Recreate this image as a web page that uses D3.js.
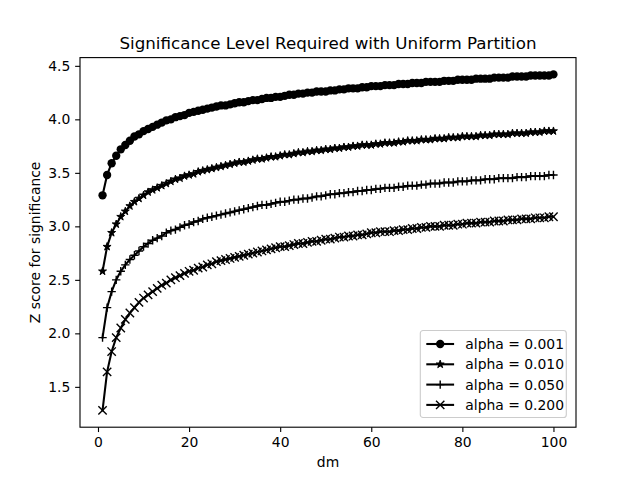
<!DOCTYPE html>
<html>
<head>
<meta charset="utf-8">
<script src="https://cdn.jsdelivr.net/npm/d3@7"></script>
<style>
  body { margin: 0; background: #fff; }
  text { font-family: "DejaVu Sans", sans-serif; }
</style>
</head>
<body>
<script>
// DATA –––––––––––––––––––––––––––––––––––––––––––––––––––––––––––––––

var dmValues = d3.range(1, 101);

var zAlpha001 = [
  3.29, 3.48, 3.59, 3.66, 3.72, 3.76, 3.80, 3.84, 3.86, 3.89,
  3.91, 3.93, 3.95, 3.97, 3.99, 4.00, 4.02, 4.03, 4.04, 4.06,
  4.07, 4.08, 4.09, 4.10, 4.11, 4.12, 4.13, 4.13, 4.14, 4.15,
  4.16, 4.16, 4.17, 4.18, 4.18, 4.19, 4.20, 4.20, 4.21, 4.21,
  4.22, 4.23, 4.23, 4.24, 4.24, 4.25, 4.25, 4.26, 4.26, 4.26,
  4.27, 4.27, 4.28, 4.28, 4.29, 4.29, 4.29, 4.30, 4.30, 4.31,
  4.31, 4.31, 4.32, 4.32, 4.32, 4.33, 4.33, 4.33, 4.34, 4.34,
  4.34, 4.35, 4.35, 4.35, 4.35, 4.36, 4.36, 4.36, 4.37, 4.37,
  4.37, 4.37, 4.38, 4.38, 4.38, 4.38, 4.39, 4.39, 4.39, 4.39,
  4.40, 4.40, 4.40, 4.40, 4.41, 4.41, 4.41, 4.41, 4.41, 4.42
];

var zAlpha010 = [
  2.58, 2.81, 2.94, 3.02, 3.09, 3.14, 3.19, 3.23, 3.26, 3.29,
  3.32, 3.34, 3.36, 3.38, 3.40, 3.42, 3.44, 3.45, 3.47, 3.48,
  3.49, 3.51, 3.52, 3.53, 3.54, 3.55, 3.56, 3.57, 3.58, 3.59,
  3.60, 3.60, 3.61, 3.62, 3.63, 3.63, 3.64, 3.65, 3.65, 3.66,
  3.67, 3.67, 3.68, 3.69, 3.69, 3.70, 3.70, 3.71, 3.71, 3.72,
  3.72, 3.73, 3.73, 3.74, 3.74, 3.75, 3.75, 3.76, 3.76, 3.76,
  3.77, 3.77, 3.78, 3.78, 3.78, 3.79, 3.79, 3.80, 3.80, 3.80,
  3.81, 3.81, 3.81, 3.82, 3.82, 3.82, 3.83, 3.83, 3.83, 3.84,
  3.84, 3.84, 3.84, 3.85, 3.85, 3.85, 3.86, 3.86, 3.86, 3.86,
  3.87, 3.87, 3.87, 3.87, 3.88, 3.88, 3.88, 3.89, 3.89, 3.89
];

var zAlpha050 = [
  1.96, 2.24, 2.39, 2.50, 2.58, 2.64, 2.69, 2.73, 2.77, 2.81,
  2.84, 2.87, 2.89, 2.91, 2.94, 2.96, 2.97, 2.99, 3.01, 3.02,
  3.04, 3.05, 3.07, 3.08, 3.09, 3.10, 3.11, 3.12, 3.13, 3.14,
  3.15, 3.16, 3.17, 3.18, 3.19, 3.20, 3.20, 3.21, 3.22, 3.23,
  3.23, 3.24, 3.25, 3.25, 3.26, 3.26, 3.27, 3.28, 3.28, 3.29,
  3.30, 3.30, 3.31, 3.31, 3.32, 3.32, 3.33, 3.33, 3.34, 3.34,
  3.35, 3.35, 3.36, 3.36, 3.36, 3.37, 3.37, 3.38, 3.38, 3.38,
  3.39, 3.39, 3.40, 3.40, 3.40, 3.41, 3.41, 3.41, 3.42, 3.42,
  3.42, 3.43, 3.43, 3.43, 3.44, 3.44, 3.44, 3.45, 3.45, 3.45,
  3.45, 3.46, 3.46, 3.46, 3.47, 3.47, 3.47, 3.47, 3.48, 3.48
];

var zAlpha200 = [
  1.28, 1.64, 1.83, 1.96, 2.05, 2.13, 2.19, 2.24, 2.29, 2.33,
  2.36, 2.39, 2.42, 2.45, 2.47, 2.50, 2.52, 2.54, 2.56, 2.58,
  2.59, 2.61, 2.62, 2.64, 2.65, 2.67, 2.68, 2.69, 2.70, 2.71,
  2.72, 2.73, 2.74, 2.75, 2.76, 2.77, 2.78, 2.79, 2.80, 2.81,
  2.81, 2.82, 2.83, 2.84, 2.84, 2.85, 2.86, 2.86, 2.87, 2.88,
  2.88, 2.89, 2.90, 2.90, 2.91, 2.91, 2.92, 2.92, 2.93, 2.94,
  2.94, 2.95, 2.95, 2.95, 2.96, 2.96, 2.97, 2.97, 2.98, 2.98,
  2.99, 2.99, 3.00, 3.00, 3.00, 3.01, 3.01, 3.01, 3.02, 3.02,
  3.03, 3.03, 3.03, 3.04, 3.04, 3.04, 3.05, 3.05, 3.05, 3.06,
  3.06, 3.06, 3.07, 3.07, 3.07, 3.08, 3.08, 3.08, 3.09, 3.09
];

var seriesLabels = ["alpha = 0.001", "alpha = 0.010", "alpha = 0.050", "alpha = 0.200"];
var seriesMarkers = ["circle", "star", "plus", "cross"];
var xTicks = [0, 20, 40, 60, 80, 100];
var yTicks = [1.5, 2.0, 2.5, 3.0, 3.5, 4.0, 4.5];

var titleText = "Significance Level Required with Uniform Partition";
var xLabel = "dm";
var yLabel = "Z score for significance";

// LAYOUT –––––––––––––––––––––––––––––––––––––––––––––––––––––––––––––

var W = 640, H = 480,
    margin = {top: 57.6, right: 64, bottom: 52.8, left: 80},
    width = W - margin.left - margin.right,
    height = H - margin.top - margin.bottom;

var allSeries = [zAlpha001, zAlpha010, zAlpha050, zAlpha200];

// matplotlib-style 5% padding on the data range
var xMin = d3.min(dmValues), xMax = d3.max(dmValues),
    yMin = d3.min(allSeries, function(s) { return d3.min(s); }),
    yMax = d3.max(allSeries, function(s) { return d3.max(s); }),
    xPad = (xMax - xMin) * 0.05,
    yPad = (yMax - yMin) * 0.05;

var x = d3.scaleLinear().domain([xMin - xPad, xMax + xPad]).range([0, width]);
var y = d3.scaleLinear().domain([yMin - yPad, yMax + yPad]).range([height, 0]);

var svg = d3.select("body").append("svg")
    .attr("width", W)
    .attr("height", H);

svg.append("rect").attr("width", W).attr("height", H).attr("fill", "#fff");

var g = svg.append("g")
    .attr("transform", "translate(" + margin.left + "," + margin.top + ")");

// MARKERS ––––––––––––––––––––––––––––––––––––––––––––––––––––––––––––

var markerPath = function(type) {
  var r = 4.17;
  if (type === "star") {
    var pts = [], ro = 4.17, ri = ro * 0.381966;
    for (let i = 0; i < 10; i++) {
      let a = -Math.PI / 2 + i * Math.PI / 5,
          rr = i % 2 === 0 ? ro : ri;
      pts.push([rr * Math.cos(a), rr * Math.sin(a)]);
    }
    return "M" + pts.map(function(p) { return p[0].toFixed(2) + "," + p[1].toFixed(2); }).join("L") + "Z";
  }
  if (type === "plus") {
    return "M" + (-r) + ",0L" + r + ",0M0," + (-r) + "L0," + r;
  }
  if (type === "cross") {
    return "M" + (-r) + "," + (-r) + "L" + r + "," + r + "M" + (-r) + "," + r + "L" + r + "," + (-r);
  }
  return null;
};

var drawMarker = function(parent, type, cx, cy) {
  if (type === "circle") {
    parent.append("circle")
      .attr("cx", cx).attr("cy", cy).attr("r", 4.17)
      .attr("fill", "#000");
  } else if (type === "star") {
    parent.append("path")
      .attr("transform", "translate(" + cx + "," + cy + ")")
      .attr("d", markerPath(type))
      .attr("fill", "#000")
      .attr("stroke", "#000")
      .attr("stroke-width", 1)
      .attr("stroke-linejoin", "miter");
  } else {
    parent.append("path")
      .attr("transform", "translate(" + cx + "," + cy + ")")
      .attr("d", markerPath(type))
      .attr("fill", "none")
      .attr("stroke", "#000")
      .attr("stroke-width", 1.39);
  }
};

// LINES ––––––––––––––––––––––––––––––––––––––––––––––––––––––––––––––

var line = d3.line()
  .x(function(d, i) { return x(dmValues[i]); })
  .y(function(d) { return y(d); });

allSeries.forEach(function(series, si) {
  g.append("path")
    .datum(series)
    .attr("fill", "none")
    .attr("stroke", "#000")
    .attr("stroke-width", 2.08)
    .attr("stroke-linejoin", "round")
    .attr("stroke-linecap", "square")
    .attr("d", line);

  var mg = g.append("g");
  series.forEach(function(v, i) {
    drawMarker(mg, seriesMarkers[si], x(dmValues[i]), y(v));
  });
});

// AXES –––––––––––––––––––––––––––––––––––––––––––––––––––––––––––––––

var xAxis = g.append("g")
  .attr("transform", "translate(0," + height + ")")
  .call(d3.axisBottom(x).tickValues(xTicks).tickSize(4.86).tickPadding(4.86)
        .tickFormat(d3.format("d")));

var yAxis = g.append("g")
  .call(d3.axisLeft(y).tickValues(yTicks).tickSize(4.86).tickPadding(4.86)
        .tickFormat(d3.format(".1f")));

[xAxis, yAxis].forEach(function(ax) {
  ax.select(".domain").remove();
  ax.selectAll(".tick line").attr("stroke", "#000").attr("stroke-width", 1.11);
  ax.selectAll(".tick text")
    .attr("fill", "#000")
    .style("font-family", "DejaVu Sans")
    .style("font-size", "13.9px");
});

// frame
g.append("rect")
  .attr("width", width)
  .attr("height", height)
  .attr("fill", "none")
  .attr("stroke", "#000")
  .attr("stroke-width", 1.11);

// labels
svg.append("text")
  .attr("x", margin.left + width / 2)
  .attr("y", margin.top - 8.5)
  .attr("text-anchor", "middle")
  .style("font-size", "16.7px")
  .text(titleText);

svg.append("text")
  .attr("x", margin.left + width / 2)
  .attr("y", H - 13.5)
  .attr("text-anchor", "middle")
  .style("font-size", "13.9px")
  .text(xLabel);

svg.append("text")
  .attr("transform", "translate(" + 40 + "," + (margin.top + height / 2) + ") rotate(-90)")
  .attr("text-anchor", "middle")
  .style("font-size", "13.9px")
  .text(yLabel);

// LEGEND –––––––––––––––––––––––––––––––––––––––––––––––––––––––––––––

var legW = 146, legH = 87,
    legX = width - legW - 9.7,
    legY = height - legH - 9.7;

var leg = g.append("g").attr("transform", "translate(" + legX + "," + legY + ")");

leg.append("rect")
  .attr("width", legW).attr("height", legH)
  .attr("rx", 2.8).attr("ry", 2.8)
  .attr("fill", "#fff").attr("fill-opacity", 0.8)
  .attr("stroke", "#ccc").attr("stroke-width", 1.11);

seriesLabels.forEach(function(lbl, i) {
  let cy = 13.5 + i * 20.3;
  leg.append("line")
    .attr("x1", 6).attr("x2", 33.8)
    .attr("y1", cy).attr("y2", cy)
    .attr("stroke", "#000").attr("stroke-width", 2.08);
  drawMarker(leg, seriesMarkers[i], 19.9, cy);
  leg.append("text")
    .attr("x", 45)
    .attr("y", cy)
    .attr("dy", "0.36em")
    .style("font-size", "13.9px")
    .text(lbl);
});
</script>
</body>
</html>
